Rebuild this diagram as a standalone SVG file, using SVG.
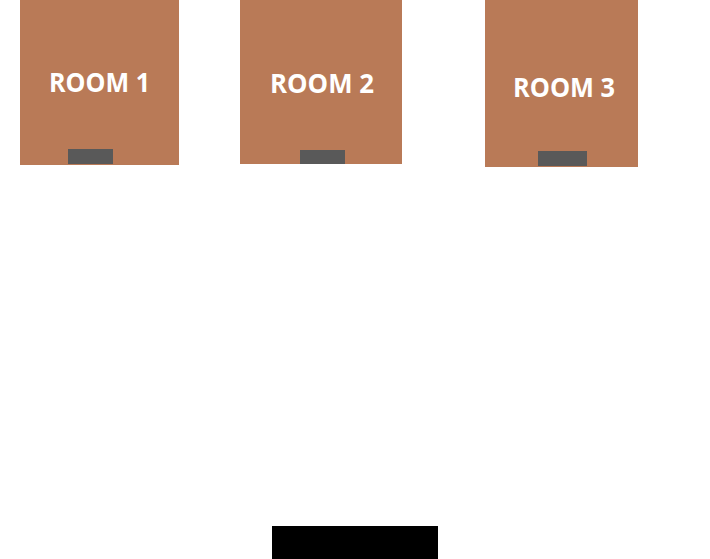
<svg xmlns="http://www.w3.org/2000/svg" width="710" height="559" viewBox="0 0 710 559">
<style>
.room{fill:#B97A57}
.door{fill:#595959}
.lbl{fill:#FFFFFF;font-family:"Open Sans","Noto Sans",sans-serif;font-weight:bold;font-size:26px;text-anchor:middle}
</style>
<rect width="710" height="559" fill="#FFFFFF"/>
<g id="room1">
<rect class="room" x="20" y="0" width="159" height="165"/>
<rect class="door" x="68" y="149" width="45" height="15"/>
<text class="lbl" x="99.5" y="92" textLength="101" lengthAdjust="spacingAndGlyphs">ROOM 1</text>
</g>
<g id="room2">
<rect class="room" x="240" y="0" width="162" height="164"/>
<rect class="door" x="300" y="150" width="45" height="14"/>
<text class="lbl" x="322" y="93" textLength="104" lengthAdjust="spacingAndGlyphs">ROOM 2</text>
</g>
<g id="room3">
<rect class="room" x="485" y="0" width="153" height="167"/>
<rect class="door" x="538" y="151" width="49" height="15"/>
<text class="lbl" x="564" y="97" textLength="102" lengthAdjust="spacingAndGlyphs">ROOM 3</text>
</g>
<g id="entrance">
<rect x="272" y="526" width="166" height="33" fill="#000000"/>
</g>
<g id="connectors"></g>
</svg>
